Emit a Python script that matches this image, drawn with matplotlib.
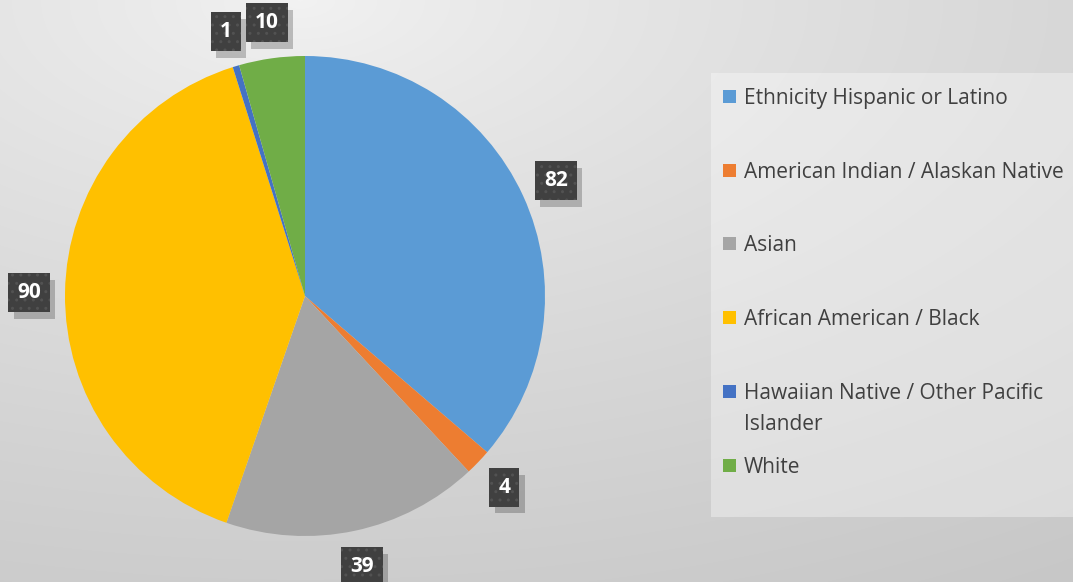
import matplotlib
matplotlib.use('Agg')
import matplotlib.pyplot as plt
import matplotlib.patheffects as pe
import numpy as np
from matplotlib.patches import Rectangle

categories = ['Ethnicity Hispanic or Latino', 'American Indian / Alaskan Native', 'Asian',
              'African American / Black', 'Hawaiian Native / Other Pacific\nIslander', 'White']
values = [82, 4, 39, 90, 1, 10]
colors = ['#5B9BD5', '#ED7D31', '#A5A5A5', '#FFC000', '#4472C4', '#70AD47']

plt.rcParams['font.family'] = ['Open Sans', 'DejaVu Sans']


class BoxShadow(pe.AbstractPathEffect):
    # plain drop shadow, without the hatch of the box
    def __init__(self, offset=(4, -4), alpha=0.25):
        super().__init__(offset)
        self.alpha = alpha

    def draw_path(self, renderer, gc, tpath, affine, rgbFace=None):
        gc0 = renderer.new_gc()
        gc0.copy_properties(gc)
        gc0.set_hatch(None)
        gc0.set_foreground('none')
        gc0.set_linewidth(0)
        gc0.set_alpha(self.alpha)
        renderer.draw_path(gc0, tpath, affine + self._offset_transform(renderer), (0, 0, 0))
        gc0.restore()


W, H = 1073, 582
fig = plt.figure(figsize=(W / 100, H / 100), dpi=100)

# background gradient
bg = fig.add_axes([0, 0, 1, 1])
yy, xx = np.mgrid[0:H, 0:W]
d = np.sqrt((xx - 300.0) ** 2 + (2.0 * yy) ** 2) / 1400.0
v = 0.95 - 0.17 * np.clip(d, 0, 1) ** 0.8
bg.imshow(np.dstack([v, v, v]), extent=[0, W, H, 0], aspect='auto')
bg.set_xlim(0, W)
bg.set_ylim(H, 0)
bg.axis('off')

# legend panel
bg.add_patch(Rectangle((711, 73), W - 711, 517 - 73, facecolor='white', alpha=0.35, lw=0))

# pie
cx, cy, R = 305, 296, 241
half = 300
ax = fig.add_axes([(cx - half) / W, (H - cy - half) / H, 2 * half / W, 2 * half / H])
ax.set_xlim(-half / R, half / R)
ax.set_ylim(-half / R, half / R)
ax.axis('off')

wedges, _ = ax.pie(values, colors=colors, startangle=90, counterclock=False,
                   radius=1, wedgeprops=dict(linewidth=0))

total = sum(values)
cum = 0
for val in values:
    mid = 90 - (cum + val / 2) / total * 360
    cum += val
    a = np.deg2rad(mid)
    x, y = 1.15 * np.cos(a), 1.15 * np.sin(a)
    t = ax.text(x, y, str(val), ha='center', va='center', fontsize=15,
                fontweight='bold', color='white',
                bbox=dict(boxstyle='square,pad=0.43', facecolor='#404040', edgecolor='#525252',
                          lw=0, hatch='..'))
    t.get_bbox_patch().set_path_effects([BoxShadow((4, -5), 0.22), pe.Normal()])

# legend entries
ys = [96, 170, 243, 317, 391, 465]
for lab, col, yv in zip(categories, colors, ys):
    bg.add_patch(Rectangle((723, yv - 6.5), 13, 13, facecolor=col, lw=0))
    bg.text(744, yv - 8, lab, ha='left', va='top', fontsize=15, color='#404040',
            linespacing=1.6)

fig.savefig('out.png', dpi=100)
